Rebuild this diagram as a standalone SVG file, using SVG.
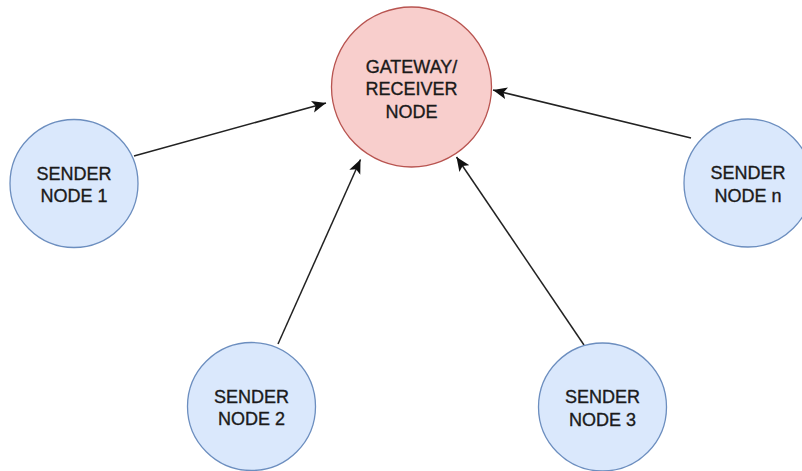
<svg xmlns="http://www.w3.org/2000/svg" width="802" height="471" viewBox="0 0 802 471">
  <style>
    .sender { fill: #dae8fc; stroke: #6c8ebf; stroke-width: 1.3; }
    .gateway { fill: #f8cecc; stroke: #b85450; stroke-width: 1.3; }
    .label { font-family: "Liberation Sans", Arial, sans-serif; font-size: 18px; fill: #1a1a1a; stroke: #1a1a1a; stroke-width: 0.35; text-anchor: middle; }
    .link { fill: none; stroke: #222222; stroke-width: 1.5; marker-end: url(#arrow); }
  </style>
  <defs>
    <marker id="arrow" markerUnits="userSpaceOnUse" markerWidth="15" markerHeight="13" viewBox="0 0 15 13" refX="14" refY="6.5" orient="auto">
      <path d="M0,0.5 L14,6.5 L0,12.5 L3.2,6.5 Z" fill="#111111"/>
    </marker>
  </defs>
  <rect width="802" height="471" fill="#ffffff"/>

  <g id="connectors">
    <line class="link" x1="134" y1="156" x2="326" y2="103"/>
    <line class="link" x1="278" y1="344" x2="360.5" y2="159.5"/>
    <line class="link" x1="584" y1="345" x2="456.5" y2="157"/>
    <line class="link" x1="691" y1="138" x2="493" y2="90"/>
  </g>

  <g id="gateway">
    <circle class="gateway" cx="411.5" cy="87" r="80"/>
    <text class="label" x="411.5" y="72.5">GATEWAY/</text>
    <text class="label" x="411.5" y="95">RECEIVER</text>
    <text class="label" x="411.5" y="117.5">NODE</text>
  </g>

  <g id="sender-1">
    <circle class="sender" cx="74" cy="183.5" r="64"/>
    <text class="label" x="74" y="179.5">SENDER</text>
    <text class="label" x="74" y="202">NODE 1</text>
  </g>

  <g id="sender-2">
    <circle class="sender" cx="251.5" cy="406.5" r="64"/>
    <text class="label" x="251.5" y="402.5">SENDER</text>
    <text class="label" x="251.5" y="425">NODE 2</text>
  </g>

  <g id="sender-3">
    <circle class="sender" cx="602.5" cy="407" r="64"/>
    <text class="label" x="602.5" y="403">SENDER</text>
    <text class="label" x="602.5" y="425.5">NODE 3</text>
  </g>

  <g id="sender-n">
    <circle class="sender" cx="748" cy="183" r="64"/>
    <text class="label" x="748" y="179">SENDER</text>
    <text class="label" x="748" y="201.5">NODE n</text>
  </g>
</svg>
